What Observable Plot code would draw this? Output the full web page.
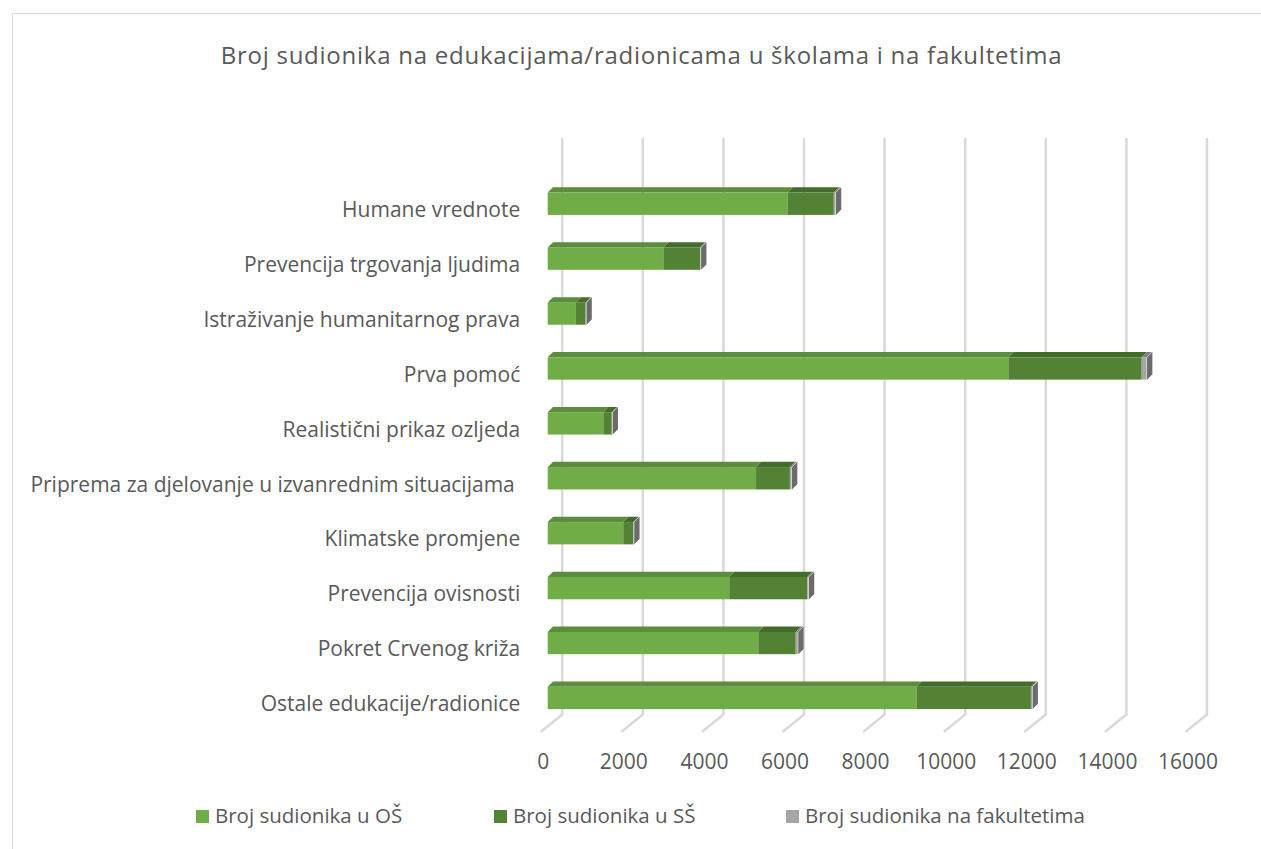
<!DOCTYPE html>
<html>
<head>
<meta charset="utf-8">
<script src="https://cdn.jsdelivr.net/npm/d3@7"></script>
<script src="https://cdn.jsdelivr.net/npm/@observablehq/plot@0.6"></script>
<style>
  html, body { margin: 0; padding: 0; background: #fff; }
  #wrap { position: relative; width: 1261px; height: 849px; overflow: hidden; font-family: "Open Sans", sans-serif; color: #595959; }
  #frame { position: absolute; left: 12px; top: 13px; width: 1400px; height: 1000px; border-left: 1px solid #d9d9d9; border-top: 1px solid #d9d9d9; }
  #title { position: absolute; left: 0; width: 1283px; top: 38px; text-align: center; font-size: 24px; letter-spacing: 0.75px; line-height: 34px; white-space: nowrap; }
  #chart { position: absolute; left: 0; top: 0; }
  .leg { position: absolute; top: 801px; height: 28px; line-height: 28px; font-size: 20.5px; white-space: nowrap; }
  .leg span.sw { position: absolute; left: 0; top: 9px; width: 13px; height: 13px; }
  .leg span.tx { position: absolute; left: 19px; top: 0; }
</style>
</head>
<body>
<div id="wrap">
  <div id="frame"></div>
  <div id="chart"></div>
  <div id="title">Broj sudionika na edukacijama/radionicama u školama i na fakultetima</div>
  <div id="legend"></div>
</div>
<script>
const categories = [
  "Humane vrednote",
  "Prevencija trgovanja ljudima",
  "Istraživanje humanitarnog prava",
  "Prva pomoć",
  "Realistični prikaz ozljeda",
  "Priprema za djelovanje u izvanrednim situacijama ",
  "Klimatske promjene",
  "Prevencija ovisnosti",
  "Pokret Crvenog križa",
  "Ostale edukacije/radionice"
];
const seriesNames = ["Broj sudionika u OŠ", "Broj sudionika u SŠ", "Broj sudionika na fakultetima"];
const valuesOS  = [5950, 2870, 700, 11430, 1380, 5170, 1875, 4505, 5225, 9150];
const valuesSS  = [1150, 910, 240, 3310, 210, 840, 250, 1935, 930, 2840];
const valuesFak = [40, 15, 10, 120, 10, 40, 10, 30, 50, 30];
const xTicks = [0, 2000, 4000, 6000, 8000, 10000, 12000, 14000, 16000];

const frontColors = ["#70AD47", "#548235", "#A5A5A5"];
const topColors   = ["#5b8d3c", "#436b2b", "#7f7f7f"];
const sideColor   = "#6b6b6b";

// stacked rows
const seriesValues = [valuesOS, valuesSS, valuesFak];
const rows = [];
const totals = [];
categories.forEach((c, i) => {
  let acc = 0;
  seriesValues.forEach((vals, s) => {
    rows.push({cat: c, series: seriesNames[s], x1: acc, x2: acc + vals[i]});
    acc += vals[i];
  });
  totals.push({cat: c, total: acc});
});

const W = 1261, H = 849;
const x0 = 547.7, slope = 0.0403;
const xEnd = x0 + 16000 * slope;
const topDepth = 5.3;
const bandW = 22.3;

const svg = Plot.plot({
  width: W,
  height: H,
  marginLeft: x0,
  marginRight: W - xEnd,
  marginTop: 138,
  marginBottom: H - 714,
  style: {fontFamily: "Open Sans, sans-serif", fontSize: "21px", color: "#595959", background: "transparent"},
  x: {domain: [0, 16000]},
  y: {domain: categories, range: [160, 741.7], padding: 0.594, round: false},
  color: {domain: seriesNames, range: frontColors},
  marks: [
    Plot.ruleX(xTicks, {x: d => d, stroke: "#d9d9d9", strokeWidth: 2.5, dx: 14}),
    Plot.vector(xTicks, {x: d => d, frameAnchor: "bottom", dx: 14, anchor: "start", rotate: 231, length: 26.6, r: 0, stroke: "#d9d9d9", strokeWidth: 2.5}),
    Plot.tickX(totals, {x: "total", y: "cat", stroke: sideColor, strokeWidth: topDepth, dx: topDepth / 2}),
    Plot.barX(rows, {x1: "x1", x2: "x2", y: "cat", fill: "series"}),
    ...seriesNames.map((s, k) => Plot.barX(rows.filter(r => r.series === s), {
      x1: "x1", x2: "x2", y: "cat", fill: topColors[k],
      insetBottom: bandW - topDepth, dy: -topDepth
    })),
    Plot.axisX({ticks: xTicks, tickSize: 0, tickPadding: 40, dx: -5, tickFormat: d => String(d), label: null, fontSize: 21}),
    Plot.axisY({tickSize: 0, tickPadding: 28, dy: 6, label: null, fontSize: 21})
  ]
});

// give the top and side faces their 3D slant
const barGroups = d3.select(svg).selectAll('g[aria-label="bar"]').nodes();
barGroups.slice(1).forEach(g => {
  d3.select(g).selectAll("rect").each(function() {
    const r = d3.select(this);
    const yb = +r.attr("y") + +r.attr("height");
    r.attr("transform", `translate(${yb},0) skewX(-45)`);
  });
});
d3.select(svg).selectAll('g[aria-label="tick"] line').each(function() {
  const l = d3.select(this);
  const xl = +l.attr("x1") - topDepth / 2;
  l.attr("transform", `translate(0,${xl}) skewY(-45)`);
});

document.getElementById("chart").appendChild(svg);

// legend
const legendLefts = [196, 494, 786];
const legend = document.getElementById("legend");
seriesNames.forEach((s, k) => {
  const d = document.createElement("div");
  d.className = "leg";
  d.style.left = legendLefts[k] + "px";
  d.innerHTML = `<span class="sw" style="background:${frontColors[k]}"></span><span class="tx">${s}</span>`;
  legend.appendChild(d);
});
</script>
</body>
</html>
